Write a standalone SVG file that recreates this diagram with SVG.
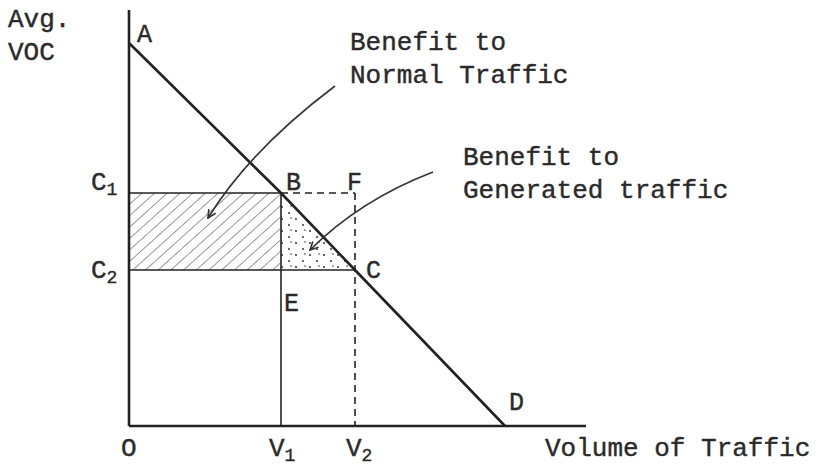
<svg xmlns="http://www.w3.org/2000/svg" width="821" height="468" viewBox="0 0 821 468">
  <style>
    .t { font-family: "Liberation Mono", "DejaVu Sans Mono", monospace; font-size: 26px; fill: #2a2a2a; stroke: #2a2a2a; stroke-width: 0.4; }
    .lb { font-family: "Liberation Mono", "DejaVu Sans Mono", monospace; font-size: 25px; fill: #2a2a2a; stroke: #2a2a2a; stroke-width: 0.4; }
    .sub { font-size: 18px; }
    .axis { stroke: #222; stroke-width: 2.6; fill: none; }
    .ln { stroke: #222; stroke-width: 1.6; fill: none; }
    .dash { stroke: #222; stroke-width: 1.6; fill: none; stroke-dasharray: 7 5; }
    .cur { stroke: #333; stroke-width: 1.6; fill: none; marker-end: url(#ah); }
  </style>
  <defs>
    <pattern id="hatch" patternUnits="userSpaceOnUse" width="8.5" height="8.5" patternTransform="rotate(48)">
      <line x1="0" y1="0" x2="0" y2="8.5" stroke="#333" stroke-width="1"/>
    </pattern>
    <pattern id="dots" patternUnits="userSpaceOnUse" width="14" height="12">
      <circle cx="2" cy="3" r="1" fill="#333"/>
      <circle cx="9" cy="9" r="1" fill="#333"/>
      <circle cx="11" cy="2" r="0.8" fill="#333"/>
    </pattern>
    <marker id="ah" viewBox="0 0 10 10" refX="9" refY="5" markerWidth="10" markerHeight="10" markerUnits="userSpaceOnUse" orient="auto">
      <path d="M1,1 L9,5 L1,9" fill="none" stroke="#333" stroke-width="1.6"/>
    </marker>
  </defs>
  <rect width="821" height="468" fill="#ffffff"/>

  <g id="regions">
    <rect x="129" y="193" width="152" height="77" fill="url(#hatch)"/>
    <polygon points="281,193 281,270 355,270" fill="url(#dots)"/>
  </g>

  <g id="axes">
    <line class="axis" x1="129" y1="10" x2="129" y2="426"/>
    <line class="axis" x1="129" y1="426" x2="586" y2="426"/>
  </g>

  <g id="connectors">
    <polyline class="axis" points="129,43 281,193 355,270 505,426"/>
    <line class="ln" x1="129" y1="193" x2="281" y2="193"/>
    <line class="dash" x1="281" y1="193" x2="355" y2="193"/>
    <line class="ln" x1="129" y1="270" x2="355" y2="270"/>
    <line class="ln" x1="281" y1="193" x2="281" y2="426"/>
    <line class="dash" x1="355" y1="193" x2="355" y2="426"/>
    <path class="cur" d="M335,86 Q250,150 208,218"/>
    <path class="cur" d="M433,172 Q360,200 310,250"/>
  </g>

  <g id="labels">
    <text class="t" x="8" y="27">Avg.</text>
    <text class="t" x="8" y="60">VOC</text>
    <text class="lb" x="137" y="42">A</text>
    <text class="lb" x="286" y="190">B</text>
    <text class="lb" x="347" y="190">F</text>
    <text class="lb" x="366" y="278">C</text>
    <text class="lb" x="284" y="311">E</text>
    <text class="lb" x="509" y="410">D</text>
    <text class="t" x="91" y="190">C<tspan class="sub" dy="5">1</tspan></text>
    <text class="t" x="91" y="278">C<tspan class="sub" dy="5">2</tspan></text>
    <text class="t" x="121" y="456">O</text>
    <text class="t" x="269" y="456">V<tspan class="sub" dy="5">1</tspan></text>
    <text class="t" x="346" y="456">V<tspan class="sub" dy="5">2</tspan></text>
    <text class="t" x="545" y="456">Volume of Traffic</text>
  </g>

  <g id="note-normal">
    <text class="t" x="350" y="50">Benefit to</text>
    <text class="t" x="350" y="83">Normal Traffic</text>
  </g>
  <g id="note-generated">
    <text class="t" x="463" y="165">Benefit to</text>
    <text class="t" x="463" y="198">Generated traffic</text>
  </g>
</svg>
